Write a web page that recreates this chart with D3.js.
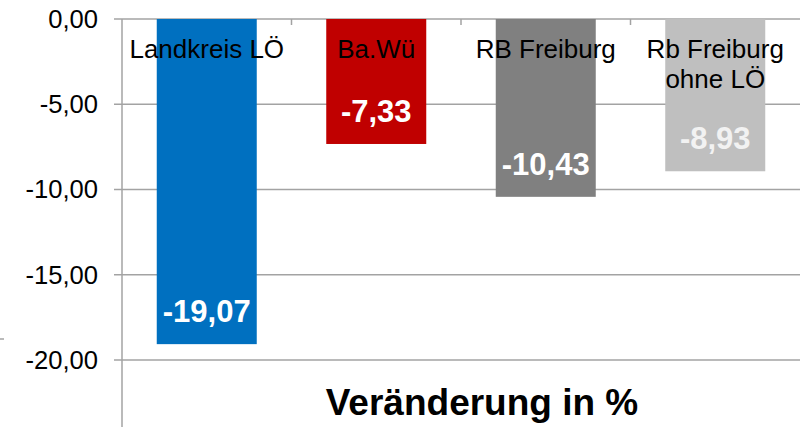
<!DOCTYPE html>
<html>
<head>
<meta charset="utf-8">
<script src="https://cdn.jsdelivr.net/npm/d3@7"></script>
<style>
  body { margin: 0; background: #fff; }
  svg { display: block; font-family: "Liberation Sans", Arial, sans-serif; }
</style>
</head>
<body>
<svg id="chart"></svg>
<script>
const width = 803;
const height = 427;

// data
const categories = ["Landkreis LÖ", "Ba.Wü", "RB Freiburg", "Rb Freiburg\nohne LÖ"];
const values = [-19.07, -7.33, -10.43, -8.93];
const colors = ["#0070C0", "#C00000", "#808080", "#BFBFBF"];
const tickValues = [0, -5, -10, -15, -20];
const title = "Veränderung in %";

const svg = d3.select("#chart").attr("width", width).attr("height", height);

const x = d3.scaleBand().domain(categories).range([122, 800]).paddingInner(0).paddingOuter(0);
const y = d3.scaleLinear().domain([-20, 0]).range([360, 19]);
const fmt = (v) => d3.format(".2f")(v).replace(".", ",").replace("−", "-");

const gridColor = "#a3a3a3";

// gridlines
svg.append("g")
  .selectAll("line")
  .data(tickValues)
  .join("line")
  .attr("x1", 114)
  .attr("x2", 800)
  .attr("y1", (d) => y(d))
  .attr("y2", (d) => y(d))
  .attr("stroke", gridColor)
  .attr("stroke-width", 1.5);

// category boundary ticks on zero line
svg.append("g")
  .selectAll("line")
  .data(categories.slice(1))
  .join("line")
  .attr("x1", (d) => x(d))
  .attr("x2", (d) => x(d))
  .attr("y1", y(0))
  .attr("y2", y(0) + 6)
  .attr("stroke", gridColor)
  .attr("stroke-width", 1.5);

// bars
const barW = 100;
svg.append("g")
  .selectAll("rect")
  .data(values)
  .join("rect")
  .attr("x", (d, i) => x(categories[i]) + x.bandwidth() / 2 - barW / 2)
  .attr("y", y(0))
  .attr("width", barW)
  .attr("height", (d) => y(d) - y(0))
  .attr("fill", (d, i) => colors[i]);

// vertical axis line
svg.append("line")
  .attr("x1", 122).attr("x2", 122)
  .attr("y1", y(0)).attr("y2", height)
  .attr("stroke", gridColor)
  .attr("stroke-width", 1.5);

// stray mark at left edge
svg.append("line")
  .attr("x1", 0).attr("x2", 4)
  .attr("y1", 339).attr("y2", 339)
  .attr("stroke", gridColor)
  .attr("stroke-width", 1.5);

// tick labels
svg.append("g")
  .selectAll("text")
  .data(tickValues)
  .join("text")
  .attr("x", 98)
  .attr("y", (d) => y(d))
  .attr("dy", "0.35em")
  .attr("text-anchor", "end")
  .style("font-size", "25.6px")
  .attr("fill", "#000")
  .text(fmt);

// category labels
const catLabels = svg.append("g")
  .selectAll("text")
  .data(categories)
  .join("text")
  .attr("text-anchor", "middle")
  .style("font-size", "26px")
  .attr("fill", "#000");

catLabels.each(function (d) {
  const lines = d.split("\n");
  d3.select(this)
    .selectAll("tspan")
    .data(lines)
    .join("tspan")
    .attr("x", x(d) + x.bandwidth() / 2)
    .attr("y", (l, j) => 58 + j * 29.5)
    .text((l) => l);
});

// value labels
svg.append("g")
  .selectAll("text")
  .data(values)
  .join("text")
  .attr("x", (d, i) => x(categories[i]) + x.bandwidth() / 2)
  .attr("y", (d) => y(d) - 22)
  .attr("text-anchor", "middle")
  .style("font-size", "31px")
  .style("font-weight", "bold")
  .attr("fill", (d, i) => (i === 3 ? "#f2f2f2" : "#fff"))
  .text(fmt);

// title
svg.append("text")
  .attr("x", 482)
  .attr("y", 415)
  .attr("text-anchor", "middle")
  .style("font-size", "37px")
  .style("font-weight", "bold")
  .attr("fill", "#000")
  .text(title);
</script>
</body>
</html>
